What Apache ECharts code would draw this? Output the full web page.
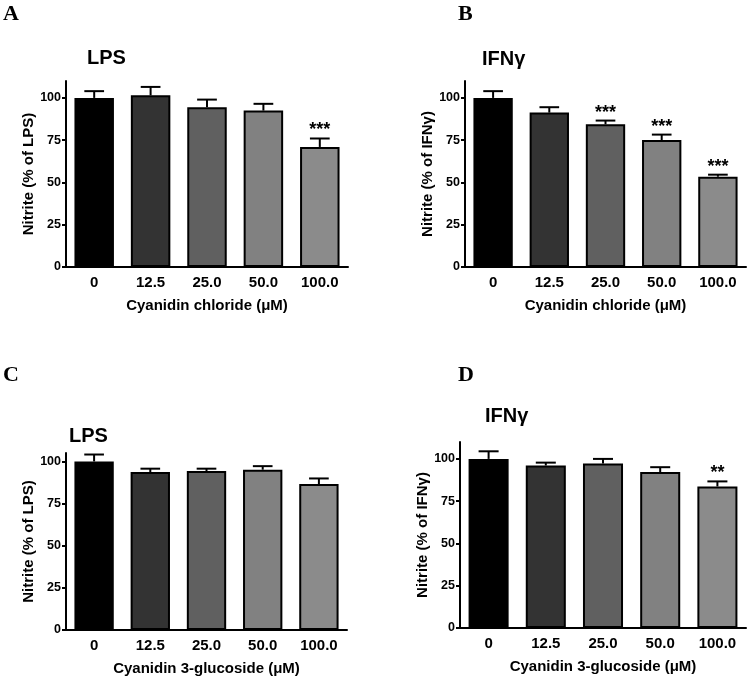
<!DOCTYPE html>
<html>
<head>
<meta charset="utf-8">
<script src="https://cdn.jsdelivr.net/npm/echarts@6/dist/echarts.min.js"></script>
<style>
html,body{margin:0;padding:0;background:#fff;}
#chart{width:750px;height:680px;}
</style>
</head>
<body>
<div id="chart"></div>
<script>
// ---- data ----
var categories = ['0', '12.5', '25.0', '50.0', '100.0'];
var yTicks = [0, 25, 50, 75, 100];

var meansA = [100, 101.5, 94.5, 92.5, 71];
var semA   = [4, 5, 4.5, 4, 5];
var sigA   = ['', '', '', '', '***'];

var meansB = [100, 91.3, 84.4, 75.1, 53.4];
var semB   = [4, 3.2, 2.2, 3.2, 1.2];
var sigB   = ['', '', '***', '***', '***'];

var meansC = [100, 93.7, 94.3, 95.1, 86.6];
var semC   = [4.1, 2, 1.4, 2.1, 3.3];
var sigC   = ['', '', '', '', ''];

var meansD = [100, 96.1, 97.3, 92.2, 83.7];
var semD   = [4.5, 1.7, 2.7, 2.9, 3];
var sigD   = ['', '', '', '', '**'];

var barColors = ['#000000', '#333333', '#606060', '#818181', '#8b8b8b'];

var panels = [
  {letter: 'A', title: 'LPS',  means: meansA, sem: semA, sig: sigA, yMax: 110,
   xName: 'Cyanidin chloride (\u03bcM)', yName: 'Nitrite (% of LPS)',
   grid: {left: 66, top: 81, width: 282, height: 186},
   letterPos: [3, 14], titlePos: [87, 57]},
  {letter: 'B', title: 'IFN\u03b3', means: meansB, sem: semB, sig: sigB, yMax: 110,
   xName: 'Cyanidin chloride (\u03bcM)', yName: 'Nitrite (% of IFN\u03b3)',
   grid: {left: 465, top: 81, width: 281, height: 186},
   letterPos: [458, 14], titlePos: [482, 58]},
  {letter: 'C', title: 'LPS',  means: meansC, sem: semC, sig: sigC, yMax: 105,
   xName: 'Cyanidin 3-glucoside (\u03bcM)', yName: 'Nitrite (% of LPS)',
   grid: {left: 66, top: 453, width: 281, height: 177},
   letterPos: [3, 375], titlePos: [69, 435]},
  {letter: 'D', title: 'IFN\u03b3', means: meansD, sem: semD, sig: sigD, yMax: 110,
   xName: 'Cyanidin 3-glucoside (\u03bcM)', yName: 'Nitrite (% of IFN\u03b3)',
   grid: {left: 460, top: 442, width: 286, height: 186},
   letterPos: [458, 375], titlePos: [485, 415]}
];

var FONT = 'Liberation Sans, Arial, sans-serif';

var grids = [], xAxes = [], yAxes = [], series = [], graphics = [];

panels.forEach(function (p, k) {
  grids.push(p.grid);
  xAxes.push({
    type: 'category', gridIndex: k, data: categories,
    axisLine: {lineStyle: {color: '#000', width: 2}},
    axisTick: {alignWithLabel: true, length: 4, lineStyle: {color: '#000', width: 2}},
    axisLabel: {color: '#000', fontWeight: 'bold', fontSize: 15, fontFamily: FONT, margin: 8},
    name: p.xName, nameLocation: 'middle', nameGap: 31,
    nameTextStyle: {color: '#000', fontWeight: 'bold', fontSize: 15, fontFamily: FONT}
  });
  yAxes.push({
    type: 'value', gridIndex: k, min: 0, max: p.yMax, interval: 25,
    splitLine: {show: false},
    axisLine: {show: true, lineStyle: {color: '#000', width: 2}},
    axisTick: {show: true, length: 4, lineStyle: {color: '#000', width: 2}, customValues: yTicks},
    axisLabel: {color: '#000', fontWeight: 'bold', fontSize: 12.5, fontFamily: FONT, margin: 5,
                customValues: yTicks},
    name: p.yName, nameLocation: 'middle', nameGap: 30, nameRotate: 90,
    nameTextStyle: {color: '#000', fontWeight: 'bold', fontSize: 15, fontFamily: FONT}
  });
  series.push({
    type: 'bar', xAxisIndex: k, yAxisIndex: k, barCategoryGap: '30%',
    data: p.means.map(function (v, i) {
      return {value: v, itemStyle: {color: barColors[i], borderColor: '#000', borderWidth: 2}};
    }),
    z: 2, silent: true
  });
  series.push({
    type: 'custom', xAxisIndex: k, yAxisIndex: k, z: 3, silent: true,
    data: p.means.map(function (v, i) { return [i, v, p.sem[i]]; }),
    renderItem: function (params, api) {
      var i = api.value(0), m = api.value(1), s = api.value(2);
      var base = api.coord([i, m]);
      var top = api.coord([i, m + s]);
      var bw = api.size([1, 0])[0] * 0.7;
      var half = bw * 0.25;
      var children = [
        {type: 'line', shape: {x1: base[0], y1: base[1], x2: top[0], y2: top[1]},
         style: {stroke: '#000', lineWidth: 2}},
        {type: 'line', shape: {x1: top[0] - half, y1: top[1], x2: top[0] + half, y2: top[1]},
         style: {stroke: '#000', lineWidth: 2}}
      ];
      var sg = p.sig[i];
      if (sg) {
        children.push({type: 'text', style: {
          text: sg, x: top[0], y: top[1] - 8,
          textAlign: 'center', textVerticalAlign: 'middle', align: 'center', verticalAlign: 'middle',
          font: 'bold 18px ' + FONT, fill: '#000'}});
      }
      return {type: 'group', children: children};
    }
  });
  graphics.push({
    type: 'text', left: p.letterPos[0], top: p.letterPos[1] - 11,
    style: {text: p.letter, font: 'bold 22px Liberation Serif, Times New Roman, serif', fill: '#000'}
  });
  graphics.push({
    type: 'text', left: p.titlePos[0], top: p.titlePos[1] - 9,
    style: {text: p.title, font: 'bold 20px ' + FONT, fill: '#000'}
  });
});

var chart = echarts.init(document.getElementById('chart'), null, {renderer: 'canvas'});
chart.setOption({
  animation: false,
  backgroundColor: '#fff',
  grid: grids, xAxis: xAxes, yAxis: yAxes, series: series, graphic: graphics
});
</script>
</body>
</html>
